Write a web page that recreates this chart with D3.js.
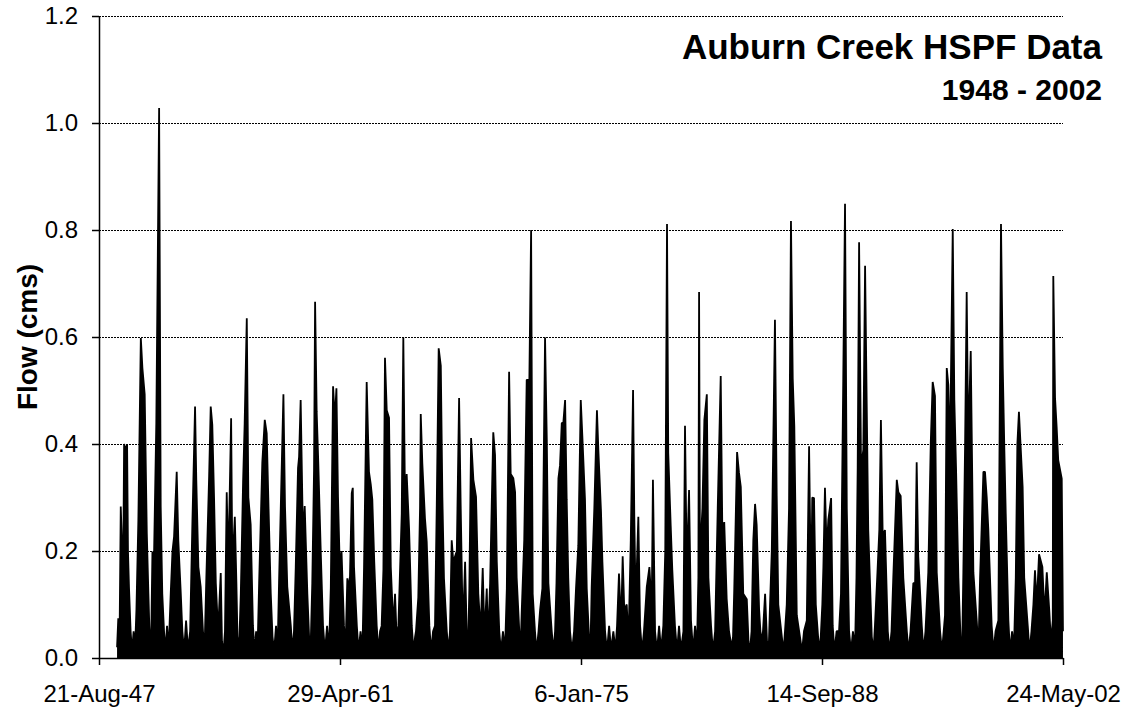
<!DOCTYPE html>
<html>
<head>
<meta charset="utf-8">
<script src="https://cdn.jsdelivr.net/npm/d3@7"></script>
<style>
  body { margin: 0; background: #fff; }
  svg { display: block; font-family: Arial, "Liberation Sans", sans-serif; }
</style>
</head>
<body>
<div id="chart"></div>
<script>
// Axis ticks: Excel date axis, one label every 5000 days
const xTickLabels = ["21-Aug-47", "29-Apr-61", "6-Jan-75", "14-Sep-88", "24-May-02"];
const xTickDates = [[1947, 7, 21], [1961, 3, 29], [1975, 0, 6], [1988, 8, 14], [2002, 4, 24]];
const yTicks = [0, 0.2, 0.4, 0.6, 0.8, 1.0, 1.2];

// Flow (cms), as [decimal year, flow]
const flow1940s = [
  [1948.66,0.02],[1948.73,0.074],[1948.80,0.03],[1948.87,0.283],[1948.93,0.22],[1949.00,0.12],[1949.06,0.40],[1949.14,0.39],
  [1949.23,0.398],[1949.28,0.2],[1949.34,0.13],[1949.43,0.05],[1949.51,0.012],[1949.60,0.05],[1949.68,0.015],[1949.76,0.09],[1949.87,0.258]
];
const flow1950s = [
  [1950.01,0.598],[1950.10,0.542],[1950.23,0.493],[1950.35,0.233],[1950.44,0.121],[1950.51,0.04],[1950.56,0.015],[1950.61,0.06],
  [1950.67,0.199],[1950.76,0.19],[1950.89,0.439],[1951.05,1.028],[1951.14,0.283],[1951.23,0.12],[1951.33,0.05],[1951.41,0.012],[1951.50,0.06],[1951.59,0.015],
  [1951.71,0.121],[1951.81,0.2],[1951.90,0.227],[1952.05,0.348],[1952.14,0.22],[1952.28,0.121],[1952.37,0.05],[1952.47,0.012],[1952.58,0.07],[1952.69,0.015],[1952.81,0.05],
  [1952.94,0.255],[1953.09,0.47],[1953.16,0.333],[1953.28,0.17],[1953.41,0.133],[1953.54,0.05],[1953.63,0.015],
  [1953.73,0.149],[1953.89,0.34],[1953.98,0.47],[1954.07,0.436],[1954.17,0.30],[1954.27,0.14],[1954.40,0.05],[1954.55,0.159],[1954.62,0.03],[1954.71,0.012],[1954.79,0.05],
  [1954.89,0.31],[1954.98,0.17],[1955.14,0.448],[1955.21,0.17],[1955.35,0.264],[1955.44,0.14],[1955.50,0.04],[1955.59,0.015],
  [1955.69,0.12],[1955.82,0.329],[1955.91,0.439],[1956.03,0.635],[1956.12,0.30],[1956.25,0.25],[1956.38,0.06],[1956.47,0.012],[1956.56,0.05],[1956.64,0.015],
  [1956.73,0.14],[1956.91,0.366],[1957.05,0.445],[1957.16,0.42],[1957.25,0.30],[1957.39,0.121],[1957.49,0.04],[1957.58,0.012],[1957.69,0.06],[1957.78,0.015],
  [1957.86,0.14],[1957.96,0.283],[1958.11,0.493],[1958.20,0.283],[1958.33,0.133],[1958.53,0.06],[1958.62,0.012],[1958.71,0.05],
  [1958.81,0.17],[1958.94,0.355],[1959.00,0.376],[1959.09,0.482],[1959.22,0.227],[1959.32,0.284],[1959.47,0.12],[1959.57,0.04],[1959.65,0.012],
  [1959.75,0.14],[1959.85,0.35],[1959.91,0.666]
];
const flow1960s = [
  [1960.00,0.46],[1960.09,0.367],[1960.23,0.20],[1960.36,0.06],[1960.47,0.012],[1960.59,0.06],[1960.70,0.015],
  [1960.80,0.131],[1960.93,0.508],[1961.03,0.445],[1961.12,0.504],[1961.21,0.301],[1961.31,0.17],[1961.41,0.2],[1961.55,0.06],[1961.64,0.02],[1961.74,0.149],
  [1961.80,0.13],[1961.89,0.152],[1961.99,0.308],[1962.05,0.318],[1962.12,0.17],[1962.28,0.06],[1962.38,0.012],[1962.49,0.05],[1962.60,0.015],
  [1962.69,0.17],[1962.84,0.516],[1962.97,0.348],[1963.07,0.325],[1963.16,0.296],[1963.27,0.18],[1963.41,0.06],[1963.51,0.012],[1963.60,0.05],
  [1963.69,0.06],[1963.79,0.165],[1963.88,0.561],[1963.98,0.463],[1964.11,0.449],[1964.21,0.17],[1964.35,0.06],[1964.45,0.12],[1964.54,0.04],
  [1964.64,0.06],[1964.83,0.27],[1964.92,0.599],[1965.02,0.283],[1965.11,0.344],[1965.25,0.239],[1965.40,0.06],[1965.50,0.012],[1965.59,0.04],
  [1965.64,0.05],[1965.77,0.113],[1965.87,0.28],[1965.91,0.456],[1966.00,0.364],[1966.15,0.261],[1966.25,0.217],[1966.40,0.06],[1966.50,0.012],[1966.61,0.05],
  [1966.72,0.06],[1966.82,0.286],[1966.93,0.579],[1967.05,0.546],[1967.14,0.30],[1967.23,0.149],[1967.39,0.05],[1967.49,0.012],[1967.57,0.05],
  [1967.67,0.22],[1967.76,0.18],[1967.96,0.20],[1968.09,0.486],[1968.18,0.285],[1968.30,0.05],[1968.43,0.18],[1968.52,0.05],
  [1968.60,0.02],[1968.67,0.13],[1968.77,0.411],[1968.90,0.333],[1969.05,0.301],[1969.18,0.12],[1969.31,0.05],[1969.43,0.168],[1969.53,0.04],[1969.66,0.13],[1969.73,0.03],
  [1969.85,0.14],[1969.94,0.283]
];
const flow1970s = [
  [1970.03,0.422],[1970.13,0.38],[1970.23,0.18],[1970.37,0.05],[1970.47,0.012],[1970.58,0.05],[1970.70,0.015],
  [1970.80,0.13],[1970.93,0.535],[1971.02,0.344],[1971.17,0.336],[1971.27,0.31],[1971.36,0.15],[1971.51,0.05],[1971.58,0.015],
  [1971.65,0.09],[1971.79,0.221],[1971.93,0.52],[1972.08,0.52],[1972.18,0.80],[1972.27,0.12],[1972.40,0.05],[1972.49,0.012],[1972.60,0.05],
  [1972.69,0.09],[1972.82,0.13],[1972.97,0.599],[1973.07,0.408],[1973.16,0.14],[1973.35,0.05],[1973.45,0.012],[1973.54,0.05],
  [1973.62,0.14],[1973.73,0.336],[1973.82,0.36],[1973.92,0.439],[1974.01,0.44],[1974.11,0.482],[1974.20,0.296],[1974.29,0.15],[1974.39,0.05],[1974.50,0.012],[1974.62,0.05],
  [1974.73,0.13],[1974.86,0.21],[1975.00,0.482],[1975.09,0.415],[1975.24,0.296],[1975.34,0.13],[1975.47,0.04],[1975.55,0.015],
  [1975.62,0.133],[1975.77,0.28],[1975.92,0.463],[1976.00,0.389],[1976.15,0.274],[1976.23,0.18],[1976.38,0.05],[1976.49,0.012],[1976.61,0.06],[1976.72,0.015],[1976.85,0.05],
  [1976.97,0.015],[1977.06,0.06],[1977.17,0.158],[1977.29,0.06],[1977.38,0.19],[1977.47,0.09],[1977.61,0.10],[1977.71,0.03],
  [1977.84,0.22],[1977.97,0.501],[1978.04,0.265],[1978.12,0.10],[1978.27,0.264],[1978.37,0.06],[1978.48,0.012],[1978.59,0.05],
  [1978.75,0.133],[1978.90,0.17],[1979.03,0.09],[1979.10,0.333],[1979.22,0.05],[1979.33,0.012],[1979.45,0.06],[1979.56,0.015],
  [1979.69,0.06],[1979.80,0.2],[1979.90,0.811],[1979.97,0.383]
];
const flow1980s = [
  [1980.11,0.247],[1980.20,0.165],[1980.35,0.06],[1980.47,0.012],[1980.58,0.06],[1980.69,0.015],
  [1980.83,0.05],[1980.92,0.434],[1981.02,0.165],[1981.15,0.314],[1981.26,0.07],[1981.38,0.012],[1981.49,0.06],[1981.60,0.02],
  [1981.68,0.15],[1981.72,0.684],[1981.77,0.187],[1981.91,0.28],[1982.02,0.445],[1982.16,0.493],[1982.25,0.15],[1982.40,0.06],[1982.51,0.012],[1982.63,0.05],
  [1982.78,0.28],[1982.95,0.527],[1983.04,0.24],[1983.15,0.254],[1983.29,0.11],[1983.42,0.05],[1983.57,0.02],[1983.65,0.04],
  [1983.72,0.13],[1983.88,0.385],[1983.99,0.346],[1984.09,0.32],[1984.23,0.12],[1984.43,0.11],[1984.53,0.03],[1984.61,0.012],[1984.70,0.05],
  [1984.80,0.22],[1984.90,0.288],[1984.99,0.249],[1985.13,0.09],[1985.24,0.03],[1985.35,0.05],[1985.47,0.12],[1985.58,0.03],[1985.67,0.012],
  [1985.75,0.10],[1985.85,0.2],[1986.03,0.632],[1986.13,0.303],[1986.22,0.10],[1986.42,0.04],[1986.52,0.012],[1986.60,0.05],
  [1986.70,0.10],[1986.83,0.28],[1986.94,0.817],[1987.04,0.523],[1987.13,0.433],[1987.27,0.08],[1987.45,0.04],[1987.57,0.012],[1987.68,0.05],
  [1987.84,0.07],[1987.97,0.396],[1988.08,0.11],[1988.15,0.30],[1988.25,0.299],[1988.35,0.10],[1988.48,0.04],[1988.59,0.012],
  [1988.72,0.10],[1988.78,0.17],[1988.87,0.318],[1988.97,0.20],[1989.06,0.258],[1989.22,0.299],[1989.31,0.06],[1989.41,0.012],[1989.53,0.05],
  [1989.67,0.05],[1989.78,0.12],[1989.91,0.523]
];
const flow1990s = [
  [1990.01,0.849],[1990.11,0.28],[1990.24,0.05],[1990.35,0.012],[1990.46,0.05],[1990.58,0.02],
  [1990.66,0.15],[1990.73,0.357],[1990.81,0.777],[1990.92,0.357],[1991.05,0.389],[1991.15,0.733],[1991.24,0.482],[1991.33,0.24],[1991.53,0.04],[1991.63,0.012],
  [1991.71,0.06],[1991.85,0.158],[1991.96,0.24],[1992.05,0.445],[1992.15,0.23],[1992.28,0.239],[1992.44,0.05],[1992.54,0.012],[1992.65,0.05],
  [1992.75,0.15],[1992.95,0.333],[1993.04,0.31],[1993.17,0.303],[1993.32,0.15],[1993.52,0.05],[1993.62,0.012],[1993.73,0.05],
  [1993.89,0.14],[1993.99,0.14],[1994.08,0.366],[1994.17,0.19],[1994.37,0.06],[1994.47,0.012],[1994.58,0.05],
  [1994.74,0.16],[1994.88,0.402],[1994.99,0.516],[1995.12,0.49],[1995.22,0.16],[1995.41,0.05],[1995.52,0.012],
  [1995.69,0.08],[1995.79,0.542],[1995.88,0.51],[1995.97,0.37],[1996.13,0.802],[1996.22,0.482],[1996.32,0.35],[1996.45,0.15],[1996.57,0.04],[1996.66,0.012],
  [1996.73,0.16],[1996.83,0.40],[1996.92,0.684],[1997.01,0.40],[1997.15,0.574],[1997.30,0.16],[1997.49,0.07],[1997.59,0.015],
  [1997.68,0.15],[1997.87,0.348],[1997.96,0.348],[1998.06,0.30],[1998.15,0.24],[1998.34,0.06],[1998.45,0.012],[1998.56,0.05],
  [1998.72,0.07],[1998.87,0.811],[1998.97,0.544],[1999.06,0.39],[1999.14,0.27],[1999.29,0.07],[1999.38,0.012],[1999.50,0.05],[1999.61,0.02],
  [1999.71,0.15],[1999.80,0.40],[1999.89,0.46]
];
const flow2000s = [
  [2000.01,0.38],[2000.10,0.32],[2000.19,0.15],[2000.39,0.06],[2000.49,0.012],[2000.60,0.05],
  [2000.71,0.10],[2000.80,0.164],[2000.90,0.10],[2001.03,0.194],[2001.22,0.17],[2001.34,0.08],[2001.47,0.16],[2001.61,0.09],[2001.71,0.03],
  [2001.81,0.07],[2001.84,0.714],[2001.94,0.486],[2002.03,0.432],[2002.12,0.37],[2002.32,0.335],[2002.39,0.05]
];

// decimal year -> Date
function yearToDate(t) {
  const yr = Math.floor(t);
  const a = new Date(yr, 0, 1), b = new Date(yr + 1, 0, 1);
  return new Date(+a + (t - yr) * (b - a));
}

const flowData = [].concat(flow1940s, flow1950s, flow1960s, flow1970s, flow1980s, flow1990s, flow2000s)
  .map(d => ({ date: yearToDate(d[0]), flow: d[1] }));
const tickDates = xTickDates.map(d => new Date(d[0], d[1], d[2]));

const svgWidth = 1128;
const svgHeight = 714;
const margin = { top: 16, right: 65, bottom: 56, left: 99 };
const width = svgWidth - margin.left - margin.right;
const height = svgHeight - margin.top - margin.bottom;

const svg = d3.select("#chart")
  .append("svg")
  .attr("width", svgWidth)
  .attr("height", svgHeight);

const g = svg.append("g")
  .attr("transform", `translate(${margin.left}, ${margin.top})`);

const xScale = d3.scaleTime()
  .domain([tickDates[0], tickDates[tickDates.length - 1]])
  .range([0, width]);

const yScale = d3.scaleLinear()
  .domain([0, 1.2])
  .range([height, 0]);

// dotted gridlines
g.append("g")
  .selectAll("line")
  .data(yTicks.filter(v => v > 0))
  .join("line")
  .attr("x1", 0)
  .attr("x2", width)
  .attr("y1", d => Math.round(yScale(d)) + 0.5)
  .attr("y2", d => Math.round(yScale(d)) + 0.5)
  .attr("stroke", "#000")
  .attr("stroke-width", 1)
  .attr("stroke-dasharray", "2,1");

// flow series
const area = d3.area()
  .x(d => xScale(d.date))
  .y0(yScale(0))
  .y1(d => yScale(d.flow));

const line = d3.line()
  .x(d => xScale(d.date))
  .y(d => yScale(d.flow));

g.append("path")
  .datum(flowData)
  .attr("fill", "#000")
  .attr("d", area);

g.append("path")
  .datum(flowData)
  .attr("fill", "none")
  .attr("stroke", "#000")
  .attr("stroke-width", 1.8)
  .attr("stroke-linejoin", "bevel")
  .attr("d", line);

// axes
const xAxis = d3.axisBottom(xScale)
  .tickValues(tickDates)
  .tickFormat((d, i) => xTickLabels[i])
  .tickSizeInner(7)
  .tickSizeOuter(0)
  .tickPadding(20);

const yAxis = d3.axisLeft(yScale)
  .tickValues(yTicks)
  .tickFormat(d3.format(".1f"))
  .tickSizeInner(7)
  .tickSizeOuter(0)
  .tickPadding(14);

const xg = g.append("g")
  .attr("transform", `translate(0, ${height})`)
  .call(xAxis);

const yg = g.append("g")
  .call(yAxis);

[xg, yg].forEach(ax => {
  ax.select(".domain").attr("stroke", "#000").attr("stroke-width", 1.5);
  ax.selectAll(".tick line").attr("stroke", "#000").attr("stroke-width", 1.5);
  ax.selectAll(".tick text")
    .attr("fill", "#000")
    .style("font-size", "24px")
    .style("font-family", "Arial, 'Liberation Sans', sans-serif");
});

// titles
svg.append("text")
  .attr("x", 1102)
  .attr("y", 59)
  .attr("text-anchor", "end")
  .style("font-size", "35px")
  .style("font-weight", "bold")
  .text("Auburn Creek HSPF Data");

svg.append("text")
  .attr("x", 1102)
  .attr("y", 100)
  .attr("text-anchor", "end")
  .style("font-size", "30px")
  .style("font-weight", "bold")
  .text("1948 - 2002");

svg.append("text")
  .attr("transform", `translate(37, ${margin.top + height / 2}) rotate(-90)`)
  .attr("text-anchor", "middle")
  .style("font-size", "28px")
  .style("font-weight", "bold")
  .text("Flow (cms)");
</script>
</body>
</html>
